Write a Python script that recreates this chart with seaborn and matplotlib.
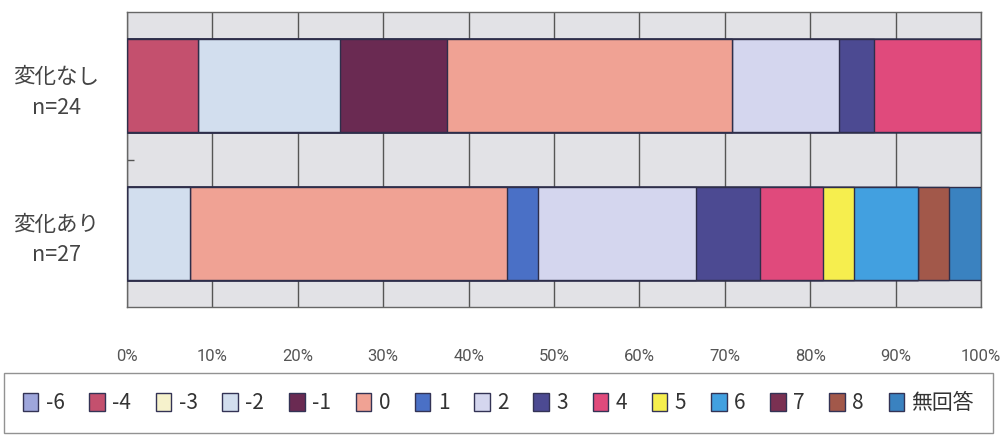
import numpy as np
import pandas as pd
import matplotlib
matplotlib.use("Agg")
import matplotlib.pyplot as plt
import seaborn as sns

groups = ["変化なし\nn=24", "変化あり\nn=27"]
group_n = [24, 27]
categories = ["-6", "-4", "-3", "-2", "-1", "0", "1", "2", "3", "4", "5", "6", "7", "8", "無回答"]
counts_no_change = [0, 2, 0, 4, 3, 8, 0, 3, 1, 3, 0, 0, 0, 0, 0]
counts_changed = [0, 0, 0, 2, 0, 10, 1, 5, 2, 2, 1, 2, 0, 1, 1]
colors = ["#9ea6dc", "#c4506e", "#f6f2cc", "#d2deee", "#6a2a52", "#f0a294",
          "#4a70c6", "#d4d6ee", "#4c4a92", "#e04a7c", "#f6ee4e", "#42a0e0",
          "#7a3052", "#a2584a", "#3a82c0"]

sns.set_theme(style="white")
plt.rcParams["font.family"] = ["Noto Sans CJK JP", "DejaVu Sans"]

pct_a = np.array(counts_no_change) / group_n[0] * 100
pct_b = np.array(counts_changed) / group_n[1] * 100
cum_a = np.cumsum(pct_a)
cum_b = np.cumsum(pct_b)

fig = plt.figure(figsize=(10.04, 4.43), dpi=100)
ax = fig.add_axes([127 / 1004, 1 - 307 / 443, 854 / 1004, 295 / 443])
ax.set_facecolor("#e2e2e6")

for i in range(len(categories) - 1, -1, -1):
    df = pd.DataFrame({"group": groups, "value": [cum_a[i], cum_b[i]]})
    sns.barplot(data=df, x="value", y="group", orient="h", color=colors[i],
                width=0.63, edgecolor="#2e2e4a", linewidth=1.0,
                saturation=1, label=categories[i], ax=ax, zorder=3)

if ax.get_legend() is not None:
    ax.get_legend().remove()

ax.set_xlim(0, 100)
ax.set_ylim(1.5, -0.5)
ax.set_xlabel("")
ax.set_ylabel("")
ax.set_xticks(np.arange(0, 101, 10))
ax.set_xticklabels([f"{v}%" for v in range(0, 101, 10)], color="#555555", fontsize=12,
                   family=["Roboto", "DejaVu Sans"])
ax.tick_params(axis="x", length=0, pad=30)
ax.tick_params(axis="y", length=0, pad=51)
for lbl in ax.get_yticklabels():
    lbl.set_fontsize(15.5)
    lbl.set_color("#444444")
    lbl.set_horizontalalignment("center")
    lbl.set_multialignment("center")
    lbl.set_linespacing(1.5)
ax.set_yticks([0.5], minor=True)
ax.tick_params(axis="y", which="minor", direction="in", length=5, color="#555555", width=1, left=True)

ax.xaxis.grid(True, color="#555555", linewidth=1.0)
ax.yaxis.grid(False)
ax.set_axisbelow(True)
for s in ax.spines.values():
    s.set_color("#666666")
    s.set_linewidth(1.0)

handles, labels = ax.get_legend_handles_labels()
handles = handles[::-1]
labels = labels[::-1]
leg = fig.legend(handles, labels, loc="center", ncol=15, mode="expand",
                 bbox_to_anchor=(4 / 1004, 1 - 438 / 443, 989 / 1004, 70 / 443),
                 fontsize=15, frameon=True, fancybox=False, edgecolor="#777777",
                 handlelength=0.75, handleheight=1.0, handletextpad=0.35,
                 columnspacing=0.6, borderpad=0.9, borderaxespad=0)
for t in leg.get_texts():
    t.set_color("#333333")
for h in leg.legend_handles:
    h.set_edgecolor("#333355")
    h.set_linewidth(1.0)

fig.savefig("out.png", dpi=100)
